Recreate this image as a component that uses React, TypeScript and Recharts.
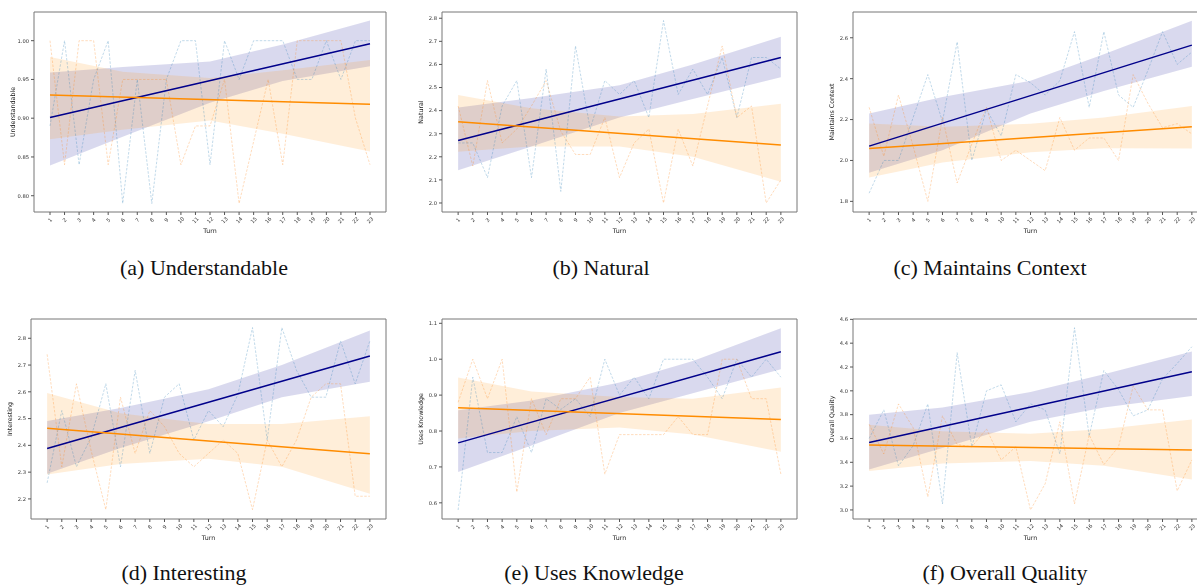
import React from 'react';
import { ComposedChart, Line, Area, XAxis, YAxis, ReferenceArea } from 'recharts';

// x positions shared by every panel
const turns = [1, 2, 3, 4, 5, 6, 7, 8, 9, 10, 11, 12, 13, 14, 15, 16, 17, 18, 19, 20, 21, 22, 23];
const fitTurns = [1, 23];
const bandTurns = [1, 6, 12, 17, 23];

// (a) Understandable
const understandableBlue = [0.89, 1.0, 0.84, 0.95, 1.0, 0.79, 0.95, 0.79, 0.95, 1.0, 1.0, 0.84, 1.0, 0.95, 1.0, 1.0, 1.0, 0.95, 0.95, 1.0, 0.95, 1.0, 1.0];
const understandableOrange = [1.0, 0.84, 1.0, 1.0, 0.84, 0.95, 0.95, 0.95, 0.95, 0.84, 0.89, 0.89, 0.95, 0.79, 0.87, 0.95, 0.84, 1.0, 1.0, 1.0, 1.0, 0.9, 0.84];
const understandableFitBlue = [0.901, 0.996];
const understandableFitOrange = [0.93, 0.918];
const understandableBandBlue = [[0.839, 0.959], [0.876, 0.966], [0.92, 0.973], [0.948, 0.995], [0.967, 1.026]];
const understandableBandOrange = [[0.873, 0.979], [0.885, 0.96], [0.897, 0.952], [0.88, 0.962], [0.857, 0.975]];

// (b) Natural
const naturalBlue = [2.26, 2.26, 2.11, 2.42, 2.53, 2.11, 2.58, 2.05, 2.68, 2.32, 2.53, 2.47, 2.53, 2.37, 2.79, 2.47, 2.58, 2.47, 2.63, 2.37, 2.63, 2.63, 2.58];
const naturalOrange = [2.42, 2.16, 2.53, 2.26, 2.32, 2.42, 2.53, 2.31, 2.21, 2.21, 2.37, 2.11, 2.26, 2.32, 2.0, 2.32, 2.16, 2.42, 2.68, 2.37, 2.42, 2.0, 2.1];
const naturalFitBlue = [2.271, 2.63];
const naturalFitOrange = [2.352, 2.251];
const naturalBandBlue = [[2.142, 2.413], [2.245, 2.455], [2.37, 2.51], [2.45, 2.6], [2.544, 2.72]];
const naturalBandOrange = [[2.222, 2.468], [2.245, 2.41], [2.245, 2.375], [2.2, 2.385], [2.092, 2.43]];

// (c) Maintains Context
const contextBlue = [1.84, 2.0, 2.0, 2.21, 2.42, 2.19, 2.58, 2.0, 2.25, 2.12, 2.42, 2.38, 2.32, 2.39, 2.63, 2.26, 2.63, 2.32, 2.26, 2.44, 2.63, 2.47, 2.53];
const contextOrange = [2.26, 2.02, 2.32, 2.07, 1.8, 2.21, 1.89, 2.08, 2.26, 2.0, 2.05, 2.0, 1.95, 2.21, 2.05, 2.11, 2.11, 2.0, 2.42, 2.28, 2.16, 2.18, 2.13];
const contextFitBlue = [2.07, 2.564];
const contextFitOrange = [2.059, 2.165];
const contextBandBlue = [[1.94, 2.23], [2.05, 2.31], [2.23, 2.39], [2.34, 2.52], [2.458, 2.683]];
const contextBandOrange = [[1.917, 2.181], [1.99, 2.165], [2.04, 2.18], [2.06, 2.21], [2.059, 2.266]];

// (d) Interesting
const interestingBlue = [2.26, 2.53, 2.32, 2.43, 2.63, 2.32, 2.68, 2.37, 2.58, 2.63, 2.42, 2.53, 2.47, 2.59, 2.84, 2.42, 2.84, 2.68, 2.58, 2.58, 2.79, 2.63, 2.79];
const interestingOrange = [2.74, 2.32, 2.63, 2.38, 2.16, 2.58, 2.37, 2.53, 2.47, 2.37, 2.32, 2.37, 2.42, 2.37, 2.16, 2.42, 2.32, 2.42, 2.58, 2.63, 2.63, 2.21, 2.21];
const interestingFitBlue = [2.388, 2.734];
const interestingFitOrange = [2.464, 2.369];
const interestingBandBlue = [[2.294, 2.491], [2.39, 2.54], [2.49, 2.61], [2.58, 2.7], [2.638, 2.829]];
const interestingBandOrange = [[2.291, 2.596], [2.33, 2.52], [2.35, 2.48], [2.32, 2.48], [2.219, 2.509]];

// (e) Uses Knowledge
const knowledgeBlue = [0.58, 0.95, 0.74, 0.74, 0.84, 0.74, 0.89, 0.86, 0.89, 0.84, 1.0, 0.9, 0.95, 0.89, 1.0, 1.0, 1.0, 0.95, 0.89, 1.0, 0.95, 1.0, 0.95];
const knowledgeOrange = [0.88, 1.0, 0.89, 1.0, 0.63, 0.89, 0.79, 0.89, 0.89, 0.95, 0.68, 0.79, 0.79, 0.79, 0.79, 0.84, 0.79, 0.79, 1.0, 1.0, 0.89, 0.89, 0.68];
const knowledgeFitBlue = [0.767, 1.021];
const knowledgeFitOrange = [0.865, 0.832];
const knowledgeBandBlue = [[0.686, 0.858], [0.76, 0.885], [0.85, 0.935], [0.905, 0.995], [0.972, 1.086]];
const knowledgeBandOrange = [[0.779, 0.949], [0.8, 0.91], [0.81, 0.895], [0.79, 0.89], [0.742, 0.921]];

// (f) Overall Quality
const qualityBlue = [3.6, 3.84, 3.37, 3.54, 3.89, 3.05, 4.32, 3.53, 4.0, 4.05, 3.74, 3.89, 3.84, 3.47, 4.53, 3.62, 4.17, 4.01, 3.79, 3.84, 4.1, 4.23, 4.37];
const qualityOrange = [3.72, 3.47, 3.89, 3.69, 3.11, 3.79, 3.55, 3.53, 3.68, 3.42, 3.53, 3.0, 3.22, 3.74, 3.05, 3.63, 3.38, 3.53, 4.04, 3.84, 3.84, 3.16, 3.42];
const qualityFitBlue = [3.566, 4.161];
const qualityFitOrange = [3.546, 3.504];
const qualityBandBlue = [[3.34, 3.8], [3.52, 3.86], [3.74, 3.99], [3.86, 4.14], [3.957, 4.331]];
const qualityBandOrange = [[3.328, 3.716], [3.39, 3.66], [3.41, 3.64], [3.37, 3.68], [3.255, 3.759]];

const AXIS_W = 40;
const TOP_PAD = 12;
const PLOT_H = 200;
const XAXIS_H = 40;
const FONT = '"DejaVu Sans", sans-serif';

const TurnTick = (props: any) => {
  const { x, y, payload } = props;
  const cy = y + 3;
  return (
    <text
      x={x}
      y={cy}
      transform={`rotate(-45 ${x} ${cy})`}
      textAnchor="middle"
      dominantBaseline="central"
      fontSize={5.2}
      fill="#333"
    >
      {payload.value}
    </text>
  );
};

type PanelProps = {
  left: number;
  top: number;
  plotWidth: number;
  yLabel: string;
  yDomain: [number, number];
  yTicks: number[];
  digits: number;
  blue: number[];
  orange: number[];
  fitBlue: number[];
  fitOrange: number[];
  bandBlue: number[][];
  bandOrange: number[][];
};

const Panel = (p: PanelProps) => {
  const rows = turns.map((turn, i) => {
    const f = fitTurns.indexOf(turn);
    const b = bandTurns.indexOf(turn);
    return {
      turn,
      blue: p.blue[i],
      orange: p.orange[i],
      fitBlue: f >= 0 ? p.fitBlue[f] : null,
      fitOrange: f >= 0 ? p.fitOrange[f] : null,
      bandBlue: b >= 0 ? p.bandBlue[b] : [null, null],
      bandOrange: b >= 0 ? p.bandOrange[b] : [null, null],
    };
  });

  return (
    <div style={{ position: 'absolute', left: p.left - AXIS_W, top: p.top - TOP_PAD, willChange: 'transform' }}>
      <ComposedChart
        width={AXIS_W + p.plotWidth + 20}
        height={TOP_PAD + PLOT_H + XAXIS_H}
        data={rows}
        margin={{ top: TOP_PAD, right: 20, bottom: 0, left: 0 }}
      >
        <XAxis
          dataKey="turn"
          type="number"
          domain={[-0.1, 24.1]}
          allowDataOverflow
          ticks={turns}
          interval={0}
          height={XAXIS_H}
          tick={<TurnTick />}
          tickSize={3}
          tickMargin={2}
          tickLine={{ stroke: '#555' }}
          axisLine={false}
          label={{ value: 'Turn', position: 'insideBottom', offset: 19, style: { fontSize: 6.3, fill: '#222' } }}
        />
        <YAxis
          type="number"
          domain={p.yDomain}
          allowDataOverflow
          ticks={p.yTicks}
          interval={0}
          width={AXIS_W}
          tickSize={3}
          tickMargin={2}
          tickLine={{ stroke: '#555' }}
          axisLine={false}
          tick={{ fontSize: 5.2, fill: '#333' }}
          tickFormatter={(v: number) => v.toFixed(p.digits)}
          label={{
            value: p.yLabel,
            angle: -90,
            position: 'insideLeft',
            offset: 19,
            style: { textAnchor: 'middle', fontSize: 6.3, fill: '#222' },
          }}
        />
        <Line type="linear" dataKey="blue" stroke="#1f77b4" strokeOpacity={0.35} strokeWidth={0.8} strokeDasharray="2.5 1.5" dot={false} activeDot={false} isAnimationActive={false} />
        <Line type="linear" dataKey="orange" stroke="#ff7f0e" strokeOpacity={0.35} strokeWidth={0.8} strokeDasharray="2.5 1.5" dot={false} activeDot={false} isAnimationActive={false} />
        <Area type="linear" dataKey="bandBlue" stroke="none" fill="#00008b" fillOpacity={0.15} connectNulls activeDot={false} isAnimationActive={false} />
        <Area type="linear" dataKey="bandOrange" stroke="none" fill="#ff8c00" fillOpacity={0.15} connectNulls activeDot={false} isAnimationActive={false} />
        <Line type="linear" dataKey="fitBlue" stroke="#00008b" strokeWidth={1.5} dot={false} activeDot={false} connectNulls isAnimationActive={false} />
        <Line type="linear" dataKey="fitOrange" stroke="#ff8c00" strokeWidth={1.5} dot={false} activeDot={false} connectNulls isAnimationActive={false} />
        <ReferenceArea x1={-0.1} x2={24.1} y1={p.yDomain[0]} y2={p.yDomain[1]} fill="none" fillOpacity={0} stroke="#777" strokeWidth={1} />
      </ComposedChart>
    </div>
  );
};

const Caption = ({ text, x, y }: { text: string; x: number; y: number }) => (
  <div
    style={{
      position: 'absolute',
      left: x - 160,
      top: y - 14,
      width: 320,
      textAlign: 'center',
      fontFamily: '"Liberation Serif", serif',
      fontSize: 22,
      lineHeight: '28px',
      color: '#111',
    }}
  >
    {text}
  </div>
);

const App = () => {
  return (
    <div
      style={{
        position: 'fixed',
        left: 0,
        top: 0,
        width: 1197,
        height: 585,
        overflow: 'hidden',
        background: '#fff',
        fontFamily: FONT,
      }}
    >
      <Panel left={34} top={12} plotWidth={352} yLabel="Understandable" yDomain={[0.779, 1.037]} yTicks={[0.8, 0.85, 0.9, 0.95, 1.0]} digits={2}
        blue={understandableBlue} orange={understandableOrange} fitBlue={understandableFitBlue} fitOrange={understandableFitOrange}
        bandBlue={understandableBandBlue} bandOrange={understandableBandOrange} />
      <Panel left={442} top={12} plotWidth={355} yLabel="Natural" yDomain={[1.961, 2.827]} yTicks={[2.0, 2.1, 2.2, 2.3, 2.4, 2.5, 2.6, 2.7, 2.8]} digits={1}
        blue={naturalBlue} orange={naturalOrange} fitBlue={naturalFitBlue} fitOrange={naturalFitOrange}
        bandBlue={naturalBandBlue} bandOrange={naturalBandOrange} />
      <Panel left={853} top={12} plotWidth={355} yLabel="Maintains Context" yDomain={[1.748, 2.726]} yTicks={[1.8, 2.0, 2.2, 2.4, 2.6]} digits={1}
        blue={contextBlue} orange={contextOrange} fitBlue={contextFitBlue} fitOrange={contextFitOrange}
        bandBlue={contextBandBlue} bandOrange={contextBandOrange} />
      <Panel left={31} top={319} plotWidth={355} yLabel="Interesting" yDomain={[2.125, 2.872]} yTicks={[2.2, 2.3, 2.4, 2.5, 2.6, 2.7, 2.8]} digits={1}
        blue={interestingBlue} orange={interestingOrange} fitBlue={interestingFitBlue} fitOrange={interestingFitOrange}
        bandBlue={interestingBandBlue} bandOrange={interestingBandOrange} />
      <Panel left={442} top={319} plotWidth={355} yLabel="Uses Knowledge" yDomain={[0.555, 1.112]} yTicks={[0.6, 0.7, 0.8, 0.9, 1.0, 1.1]} digits={1}
        blue={knowledgeBlue} orange={knowledgeOrange} fitBlue={knowledgeFitBlue} fitOrange={knowledgeFitOrange}
        bandBlue={knowledgeBandBlue} bandOrange={knowledgeBandOrange} />
      <Panel left={853} top={319} plotWidth={355} yLabel="Overall Quality" yDomain={[2.924, 4.603]} yTicks={[3.0, 3.2, 3.4, 3.6, 3.8, 4.0, 4.2, 4.4, 4.6]} digits={1}
        blue={qualityBlue} orange={qualityOrange} fitBlue={qualityFitBlue} fitOrange={qualityFitOrange}
        bandBlue={qualityBandBlue} bandOrange={qualityBandOrange} />

      <Caption text="(a) Understandable" x={204} y={268} />
      <Caption text="(b) Natural" x={601} y={268} />
      <Caption text="(c) Maintains Context" x={990} y={268} />
      <Caption text="(d) Interesting" x={184} y={573} />
      <Caption text="(e) Uses Knowledge" x={594} y={573} />
      <Caption text="(f) Overall Quality" x={1005} y={573} />
    </div>
  );
};

export default App;
